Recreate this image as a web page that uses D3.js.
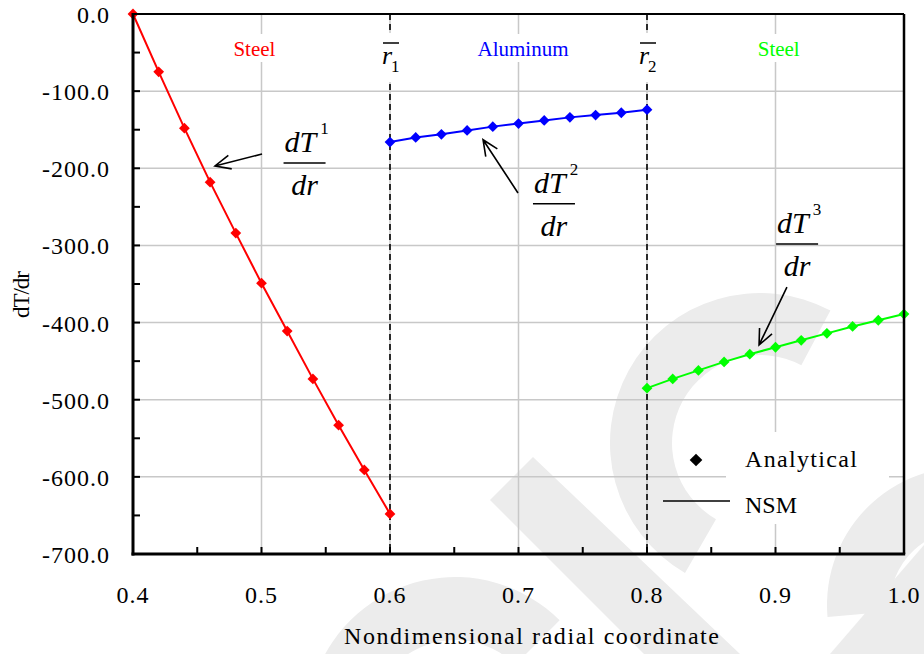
<!DOCTYPE html>
<html><head><meta charset="utf-8">
<script src="https://cdn.jsdelivr.net/npm/d3@7/dist/d3.min.js"></script>
</head>
<body style="margin:0;padding:0;background:#fff;">
<svg id="chart" width="924" height="654" style="display:block"></svg>
<script>
// ---------------- DATA ----------------
const radii1 = [0.40,0.42,0.44,0.46,0.48,0.50,0.52,0.54,0.56,0.58,0.60];
const steelInner = [0,-75,-148,-218,-284,-349,-411,-473,-533,-591,-648];
const radii2 = [0.60,0.62,0.64,0.66,0.68,0.70,0.72,0.74,0.76,0.78,0.80];
const aluminum = [-166,-160,-156,-151,-146,-142,-138,-134,-131,-128,-124];
const radii3 = [0.80,0.82,0.84,0.86,0.88,0.90,0.92,0.94,0.96,0.98,1.00];
const steelOuter = [-485,-473,-462,-451,-441,-432,-423,-414,-405,-397,-389];

const xTicks = [0.4,0.5,0.6,0.7,0.8,0.9,1.0];
const xTickLabels = ["0.4","0.5","0.6","0.7","0.8","0.9","1.0"];
const xMinorTicks = [0.45,0.55,0.65,0.75,0.85,0.95];
const yTicks = [0,-100,-200,-300,-400,-500,-600,-700];
const yTickLabels = ["0.0","-100.0","-200.0","-300.0","-400.0","-500.0","-600.0","-700.0"];
const yMinorTicks = [-50,-150,-250,-350,-450,-550,-650];
const interfaces = [0.6, 0.8];
const interfaceLabels = ["1","2"];
const regionNames = ["Steel","Aluminum","Steel"];
const regionCenters = [0.4945, 0.7035, 0.9025];
const seriesColors = ["#ff0000","#0000ff","#00ff00"];
const legendLabels = ["Analytical","NSM"];

// ---------------- SETUP ----------------
const svg = d3.select("#chart");
const W = 924, H = 654;
const m = {left:133, right:20, top:14, bottom:100};
const x = d3.scaleLinear().domain([0.4,1.0]).range([m.left, W-m.right]);
const y = d3.scaleLinear().domain([-700,0]).range([H-m.bottom, m.top]);
const FS = "font-family:Times New Roman, serif;";
function txt(sel){ return sel.append("text").attr("style",FS); }

// ---------------- WATERMARK (decorative background) ----------------
const wm = svg.append("g").attr("fill","#ececec");
const deg = Math.PI/180;
wm.append("path").attr("transform","translate(760,443)")
  .attr("d", d3.arc().innerRadius(88).outerRadius(150).startAngle(-150*deg).endAngle(28*deg)());
wm.append("path").attr("transform","translate(965,605)")
  .attr("d", d3.arc().innerRadius(75).outerRadius(138).startAngle(-95*deg).endAngle(10*deg)());
wm.append("path").attr("d","M533,457 L740,654 L644,654 L490,500 Z");
wm.append("path").attr("d","M830,654 L924,545 L924,654 Z");
wm.append("path").attr("transform","translate(455,725)")
  .attr("d", d3.arc().innerRadius(85).outerRadius(148).startAngle(-70*deg).endAngle(45*deg)());

// ---------------- GRID ----------------
const grid = svg.append("g").attr("stroke","#c8c8c8").attr("stroke-width",1.5);
grid.selectAll("line.v").data(xTicks.slice(1,-1)).join("line")
  .attr("x1",d=>x(d)).attr("x2",d=>x(d)).attr("y1",y(0)).attr("y2",y(-700));
grid.selectAll("line.h").data(yTicks.slice(1,-1)).join("line")
  .attr("x1",x(0.4)).attr("x2",x(1.0)).attr("y1",d=>y(d)).attr("y2",d=>y(d));

// interface dashed lines
svg.append("g").selectAll("line").data(interfaces).join("line")
  .attr("x1",d=>x(d)).attr("x2",d=>x(d)).attr("y1",y(0)).attr("y2",y(-700))
  .attr("stroke","#000").attr("stroke-width",1.6).attr("stroke-dasharray","6,4");

// white backgrounds for in-plot labels
const bg = svg.append("g").attr("fill","#fff");
regionNames.forEach((n,i)=>{
  const w = n.length*12+8;
  bg.append("rect").attr("x",x(regionCenters[i])-w/2).attr("y",34).attr("width",w).attr("height",28);
});
interfaces.forEach(v=>{
  bg.append("rect").attr("x",x(v)-11).attr("y",33).attr("width",24).attr("height",49);
});
// legend background boxes
bg.append("rect").attr("x",726).attr("y",432).attr("width",163).attr("height",50);
bg.append("rect").attr("x",726).attr("y",482).attr("width",111).attr("height",42);

// ---------------- SERIES ----------------
const series = [
  {xs:radii1, ys:steelInner, color:seriesColors[0]},
  {xs:radii2, ys:aluminum,   color:seriesColors[1]},
  {xs:radii3, ys:steelOuter, color:seriesColors[2]}
];
const line = d3.line().x(d=>x(d[0])).y(d=>y(d[1]));
const diamond = d3.symbol().type(d3.symbolSquare).size(58);
series.forEach(s=>{
  const pts = s.xs.map((v,i)=>[v,s.ys[i]]);
  svg.append("path").datum(pts).attr("d",line)
    .attr("fill","none").attr("stroke",s.color).attr("stroke-width",2);
  svg.append("g").selectAll("path").data(pts).join("path")
    .attr("d",diamond)
    .attr("transform",d=>`translate(${x(d[0])},${y(d[1])}) rotate(45)`)
    .attr("fill",s.color);
});

// ---------------- FRAME & TICKS ----------------
const fr = svg.append("g").attr("stroke","#000").attr("fill","none");
fr.append("line").attr("x1",x(0.4)).attr("x2",x(1.0)).attr("y1",y(0)).attr("y2",y(0)).attr("stroke-width",2);
fr.append("line").attr("x1",x(1.0)).attr("x2",x(1.0)).attr("y1",y(0)).attr("y2",y(-700)).attr("stroke-width",2.5);
fr.append("line").attr("x1",x(0.4)).attr("x2",x(0.4)).attr("y1",y(0)-1).attr("y2",y(-700)+1.5).attr("stroke-width",3);
fr.append("line").attr("x1",x(0.4)-1.5).attr("x2",x(1.0)+1.2).attr("y1",y(-700)).attr("y2",y(-700)).attr("stroke-width",3);
fr.selectAll("line.xt").data(xTicks.concat(xMinorTicks)).join("line")
  .attr("x1",d=>x(d)).attr("x2",d=>x(d)).attr("y1",y(-700)).attr("y2",y(-700)-7).attr("stroke-width",2);
fr.selectAll("line.yt").data(yTicks.concat(yMinorTicks)).join("line")
  .attr("x1",x(0.4)).attr("x2",x(0.4)+7).attr("y1",d=>y(d)).attr("y2",d=>y(d)).attr("stroke-width",2);

// tick labels
const tl = svg.append("g").attr("font-size",24).attr("fill","#000");
tl.selectAll("text.x").data(xTicks).join("text").attr("style",FS)
  .attr("x",d=>x(d)).attr("y",603).attr("text-anchor","middle").attr("letter-spacing","1px")
  .text((d,i)=>xTickLabels[i]);
tl.selectAll("text.y").data(yTicks).join("text").attr("style",FS)
  .attr("x",110).attr("y",d=>y(d)+9).attr("text-anchor","end").attr("letter-spacing","1px")
  .text((d,i)=>yTickLabels[i]);

// axis titles
txt(svg).attr("x",344).attr("y",644).attr("font-size",24)
  .attr("textLength",375).attr("lengthAdjust","spacing")
  .text("Nondimensional radial coordinate");
txt(svg).attr("transform","translate(29,318) rotate(-90)")
  .attr("font-size",23).attr("textLength",47).attr("lengthAdjust","spacing")
  .text("dT/dr");

// region labels
regionNames.forEach((n,i)=>{
  txt(svg).attr("x",x(regionCenters[i])).attr("y",56).attr("text-anchor","middle")
    .attr("font-size",21).attr("fill",seriesColors[i]).text(n);
});

// interface labels r̄1, r̄2
interfaces.forEach((v,i)=>{
  const g = svg.append("g");
  g.append("line").attr("x1",x(v)-7).attr("x2",x(v)+9).attr("y1",43).attr("y2",43)
    .attr("stroke","#000").attr("stroke-width",1.5);
  txt(g).attr("x",x(v)-8).attr("y",64).attr("font-size",26).attr("font-style","italic").text("r");
  txt(g).attr("x",x(v)+1).attr("y",72).attr("font-size",17).text(interfaceLabels[i]);
});

// derivative annotations (fraction labels + arrows), anchored in data units
const annots = [
  {fx:0.5335, fy:-193, sup:"1", from:[0.5004,-181.5], to:[0.4638,-197]},
  {fx:0.7276, fy:-246, sup:"2", from:[0.6996,-232],   to:[0.6724,-163]},
  {fx:0.9168, fy:-298, sup:"3", from:[0.9089,-354],   to:[0.8872,-429]}
];
annots.forEach(a=>{
  const cx = x(a.fx), cy = y(a.fy);
  const g = svg.append("g").attr("fill","#000");
  g.append("line").attr("x1",cx-21).attr("x2",cx+21).attr("y1",cy).attr("y2",cy)
    .attr("stroke","#000").attr("stroke-width",1.5);
  const t = txt(g).attr("x",cx-20).attr("y",cy-11).attr("font-size",30).attr("font-style","italic");
  t.append("tspan").text("dT");
  t.append("tspan").attr("font-size",17).attr("font-style","normal").attr("dx",4).attr("dy",-18).text(a.sup);
  txt(g).attr("x",cx).attr("y",cy+32).attr("text-anchor","middle")
    .attr("font-size",30).attr("font-style","italic").text("dr");
  // arrow
  const x1=x(a.from[0]), y1=y(a.from[1]), x2=x(a.to[0]), y2=y(a.to[1]);
  const ang = Math.atan2(y2-y1,x2-x1), L=17, spread=0.42;
  const p = d3.path();
  p.moveTo(x1,y1); p.lineTo(x2,y2);
  p.moveTo(x2-L*Math.cos(ang-spread), y2-L*Math.sin(ang-spread));
  p.lineTo(x2,y2);
  p.lineTo(x2-L*Math.cos(ang+spread), y2-L*Math.sin(ang+spread));
  g.append("path").attr("d",p.toString()).attr("fill","none").attr("stroke","#000").attr("stroke-width",1.6);
});

// legend
const lg = svg.append("g").attr("font-size",24);
lg.append("path").attr("d",d3.symbol().type(d3.symbolSquare).size(80)())
  .attr("transform","translate(696,460) rotate(45)").attr("fill","#000");
txt(lg).attr("x",745).attr("y",467).attr("textLength",112).attr("lengthAdjust","spacing").text(legendLabels[0]);
lg.append("line").attr("x1",663).attr("x2",730).attr("y1",501).attr("y2",501).attr("stroke","#000").attr("stroke-width",1.6);
txt(lg).attr("x",745).attr("y",513).text(legendLabels[1]);
</script>
</body></html>
